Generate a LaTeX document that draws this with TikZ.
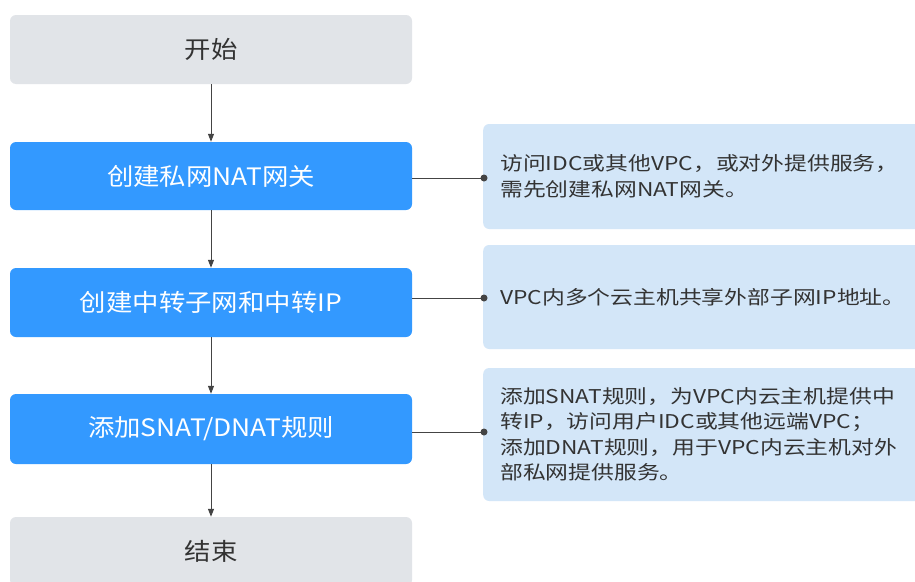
\documentclass[tikz,border=0pt]{standalone}
\usepackage{fontspec}
\setmainfont{Noto Sans CJK SC}
\newfontfamily\stepfont[FakeStretch=1.1]{Noto Sans CJK SC}
\newfontfamily\notefont[FakeStretch=1.2]{Noto Sans CJK SC}
\usetikzlibrary{arrows.meta}
\definecolor{stepblue}{HTML}{3399FF}
\definecolor{stepgray}{HTML}{E1E4E8}
\definecolor{noteblue}{HTML}{D3E6F8}
\definecolor{linegray}{HTML}{444444}
\definecolor{txtgray}{HTML}{333333}
\begin{document}
\begin{tikzpicture}[x=1pt,y=-1pt,
  box/.style={rounded corners=6pt, minimum width=402pt, inner sep=0pt, font=\stepfont\fontsize{24}{28}\selectfont},
  endbox/.style={box, fill=stepgray, text=txtgray},
  stepbox/.style={box, fill=stepblue, text=white},
  note/.style={rounded corners=6pt, fill=noteblue, text=txtgray, anchor=west, minimum width=442pt,
    text width=408pt, inner xsep=17pt, inner ysep=0pt, align=left, font=\notefont\fontsize{19}{25.5}\selectfont},
  arr/.style={draw=linegray, line width=1pt, -{Triangle[length=8pt,width=6pt]}},
  conn/.style={draw=linegray, line width=1pt},
  dot/.style={fill=linegray}
]
\clip (0,0) rectangle (915,581);
\fill[white] (0,0) rectangle (915,581);

\node[endbox, minimum height=69pt] (st) at (211,49.5) {开始};
\node[stepbox, minimum height=68pt] (s1) at (211,176) {创建私网NAT网关};
\node[stepbox, minimum height=69pt] (s2) at (211,302.5) {创建中转子网和中转IP};
\node[stepbox, minimum height=70pt] (s3) at (211,429) {添加SNAT/DNAT规则};
\node[endbox, minimum height=69pt] (en) at (211,551.5) {结束};

\node[note, minimum height=105pt] (n1) at (483,176.5) {访问IDC或其他VPC，或对外提供服务，\\需先创建私网NAT网关。};
\node[note, minimum height=104pt] (n2) at (483,297) {VPC内多个云主机共享外部子网IP地址。};
\node[note, minimum height=133pt] (n3) at (483,434.5) {添加SNAT规则，为VPC内云主机提供中\\转IP，访问用户IDC或其他远端VPC；\\添加DNAT规则，用于VPC内云主机对外\\部私网提供服务。};

\draw[arr] (st) -- (s1);
\draw[arr] (s1) -- (s2);
\draw[arr] (s2) -- (s3);
\draw[arr] (s3) -- (en);

\coordinate (d1) at (484,178);
\coordinate (d2) at (484,298);
\coordinate (d3) at (484,432);
\draw[conn] (s1.east |- d1) -- (d1);
\draw[conn] (s2.east |- d2) -- (d2);
\draw[conn] (s3.east |- d3) -- (d3);
\fill[dot] (d1) circle (3.5pt);
\fill[dot] (d2) circle (3.5pt);
\fill[dot] (d3) circle (3.5pt);
\end{tikzpicture}
\end{document}
